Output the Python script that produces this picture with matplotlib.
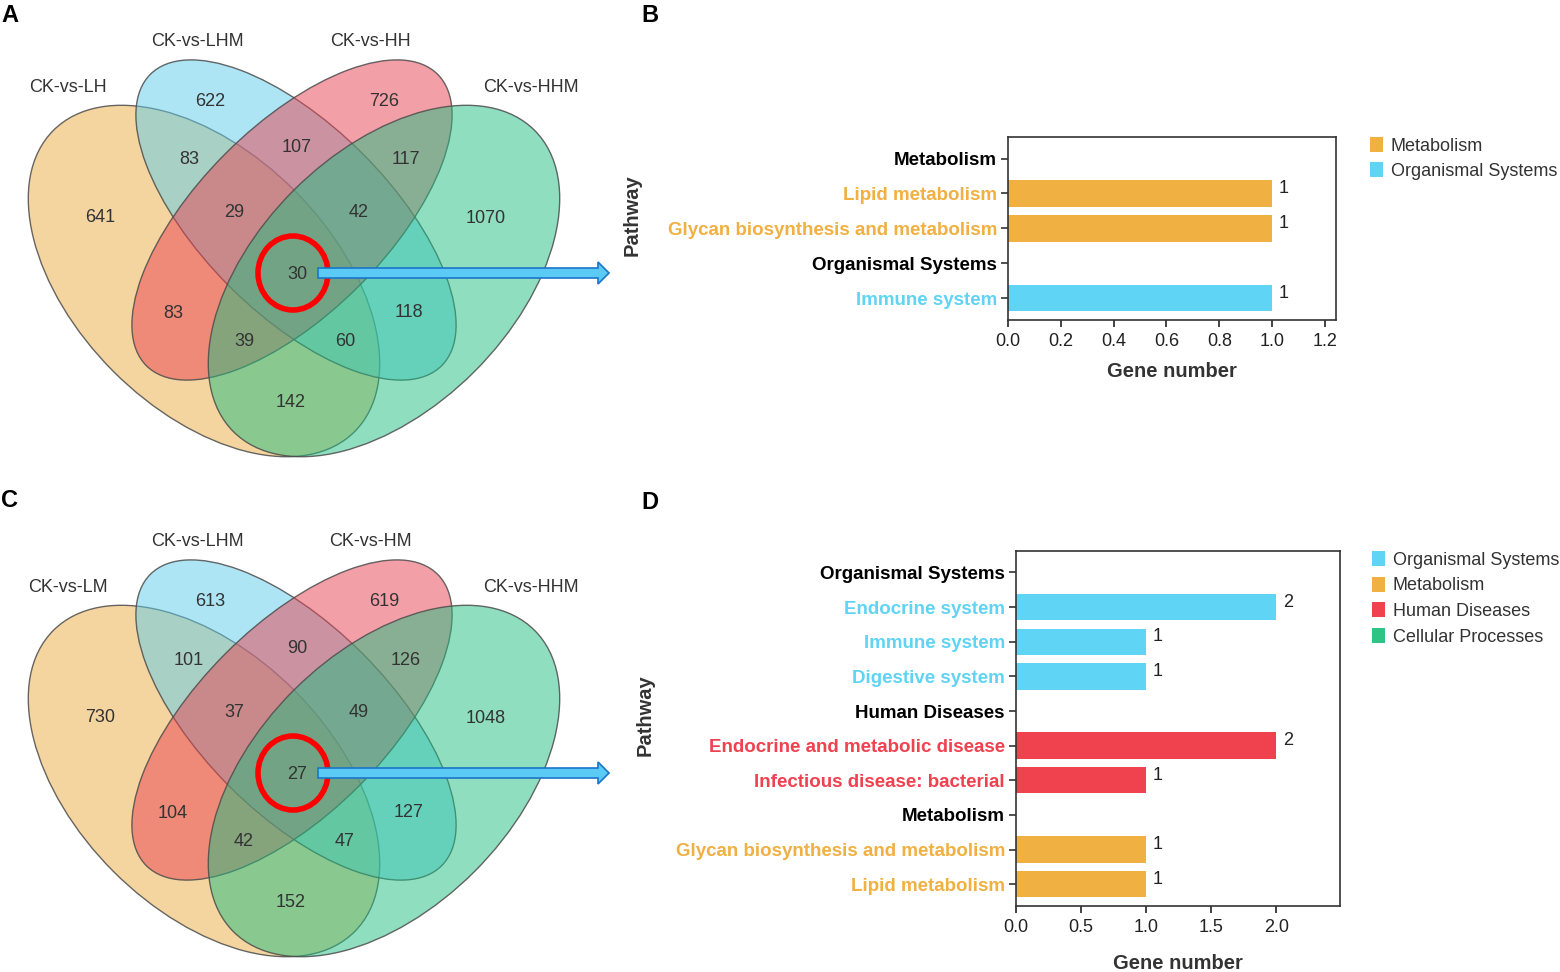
import numpy as np
import matplotlib
matplotlib.use("Agg")
import matplotlib.pyplot as plt
from matplotlib.patches import Ellipse, FancyArrow, Patch
from matplotlib.colors import to_rgba

plt.rcParams['font.family'] = ['Liberation Sans', 'DejaVu Sans']

# ---- data ----
venn_a_sets = ["CK-vs-LH", "CK-vs-LHM", "CK-vs-HH", "CK-vs-HHM"]
venn_a_counts = [641, 622, 726, 1070, 83, 107, 117, 29, 42, 30, 83, 118, 39, 60, 142]
venn_c_sets = ["CK-vs-LM", "CK-vs-LHM", "CK-vs-HM", "CK-vs-HHM"]
venn_c_counts = [730, 613, 619, 1048, 101, 90, 126, 37, 49, 27, 104, 127, 42, 47, 152]

b_labels = ["Metabolism", "Lipid metabolism", "Glycan biosynthesis and metabolism",
            "Organismal Systems", "Immune system"]
b_groups = ["Metabolism", "Metabolism", "Metabolism", "Organismal Systems", "Organismal Systems"]
b_values = [np.nan, 1, 1, np.nan, 1]
b_legend = ["Metabolism", "Organismal Systems"]

d_labels = ["Organismal Systems", "Endocrine system", "Immune system", "Digestive system",
            "Human Diseases", "Endocrine and metabolic disease", "Infectious disease: bacterial",
            "Metabolism", "Glycan biosynthesis and metabolism", "Lipid metabolism"]
d_groups = ["Organismal Systems"] * 4 + ["Human Diseases"] * 3 + ["Metabolism"] * 3
d_values = [np.nan, 2, 1, 1, np.nan, 2, 1, np.nan, 1, 1]
d_legend = ["Organismal Systems", "Metabolism", "Human Diseases", "Cellular Processes"]

palette = {"Metabolism": "#F0B042", "Organismal Systems": "#5FD4F4",
           "Human Diseases": "#F0414F", "Cellular Processes": "#2DC486"}
venn_colors = ["#EDAD41", "#5FCDEB", "#E94151", "#1FBF81"]

# ---- layout (pixels, panel A; panel C is shifted down 500 px) ----
W, H = 1560, 972
region_xy = [(100, 217), (210, 101), (384, 101), (486, 218), (189, 160), (297, 148),
             (406, 160), (234, 212), (359, 212), (297, 274), (173, 313), (409, 312),
             (244, 341), (345, 341), (291, 402)]
set_label_xy = [(68, 87), (197, 41), (370, 41), (531, 87)]
# center, full width, full height, angle (y axis points down)
ell_specs = [((204, 281), 426, 256, 45), ((296, 220), 412, 188, 45),
             ((292, 220), 412, 188, -45), ((384, 281), 426, 256, -45)]

fig = plt.figure(figsize=(W / 100, H / 100), dpi=100)
ov = fig.add_axes([0, 0, 1, 1])
ov.set_xlim(0, W)
ov.set_ylim(H, 0)
ov.axis('off')
ov.patch.set_alpha(0)


def draw_venn(counts, names, y0):
    for ((cx, cy), w, h, ang), col in zip(ell_specs, venn_colors):
        ov.add_patch(Ellipse((cx, cy + y0), w, h, angle=ang,
                             facecolor=to_rgba(col, 0.5), edgecolor=(0.3, 0.3, 0.3, 0.85), lw=1))
    for (x, y), n in zip(region_xy, counts):
        ov.text(x, y + y0, str(n), ha='center', va='center', fontsize=13, color='#333333')
    for (x, y), s in zip(set_label_xy, names):
        ov.text(x, y + y0, s, ha='center', va='center', fontsize=13, color='#333333')
    ov.add_patch(Ellipse((293, 273 + y0), 70, 74, fill=False, edgecolor='#FF0000', lw=4))
    ov.add_patch(FancyArrow(318, 273 + y0, 291, 0, width=10, head_width=22, head_length=11,
                            length_includes_head=True, facecolor='#5BCBF5',
                            edgecolor='#1B75C9', lw=1.2))


draw_venn(venn_a_counts, venn_a_sets, 0)
draw_venn(venn_c_counts, venn_c_sets, 500)

for s, (x, y) in zip("ABCD", [(10, 15), (650, 15), (10, 500), (650, 502)]):
    ov.text(x, y, s, ha='center', va='center', fontsize=17, fontweight='bold', color='black')


def pathway_bars(rect, labels, groups, values, xmax, xticks, legend_names, leg_xy,
                 pathway_xy, labelpad, spacing):
    l, t, r, b = rect
    ax = fig.add_axes([l / W, 1 - b / H, (r - l) / W, (b - t) / H])
    y = np.arange(len(labels))
    for yi, v, g in zip(y, values, groups):
        if np.isnan(v):
            continue
        ax.barh(yi, v, height=0.76, color=palette[g])
        ax.annotate(f"{v:g}", (v, yi), xytext=(7, 5), textcoords='offset pixels',
                    ha='left', va='center', fontsize=13, color='#222222')
    ax.set_yticks(y, labels)
    headers = [lab in palette for lab in labels]
    for tl, g, hd in zip(ax.get_yticklabels(), groups, headers):
        tl.set_color('black' if hd else palette[g])
        tl.set_fontweight('bold')
        tl.set_fontsize(13.5)
    ax.set_ylim(len(labels) - 1 + 0.63, -0.62)
    ax.set_xlim(0, xmax)
    ax.set_xticks(xticks, [f"{v:.1f}" for v in xticks])
    ax.tick_params(axis='x', labelsize=13, colors='#222222', length=5, width=1.2, pad=4)
    ax.tick_params(axis='y', length=5, width=1.2, color='#333333', pad=3)
    for sp in ax.spines.values():
        sp.set_color('#333333')
        sp.set_linewidth(1.2)
    ax.set_xlabel("Gene number", fontsize=14.5, fontweight='bold', color='#333333',
                  labelpad=labelpad)
    fig.text(pathway_xy[0] / W, 1 - pathway_xy[1] / H, "Pathway", rotation=90,
             ha='center', va='center', fontsize=14.5, fontweight='bold', color='#333333')
    handles = [Patch(facecolor=palette[n], edgecolor='none') for n in legend_names]
    ax.legend(handles, legend_names, loc='upper left', bbox_to_anchor=leg_xy,
              bbox_transform=ov.transData, frameon=False, fontsize=13,
              handlelength=0.7, handleheight=0.9, handletextpad=0.45,
              labelspacing=spacing, borderpad=0, borderaxespad=0, labelcolor='#333333')
    return ax


pathway_bars((1008, 137, 1336, 320), b_labels, b_groups, b_values, 1.242,
             np.arange(0, 1.21, 0.2), b_legend, (1370, 137), (632, 215), 9, 0.42)
pathway_bars((1016, 551, 1340, 906), d_labels, d_groups, d_values, 2.49,
             np.arange(0, 2.01, 0.5), d_legend, (1372, 551), (645, 715), 13, 0.44)

fig.savefig("out.png", dpi=100)
